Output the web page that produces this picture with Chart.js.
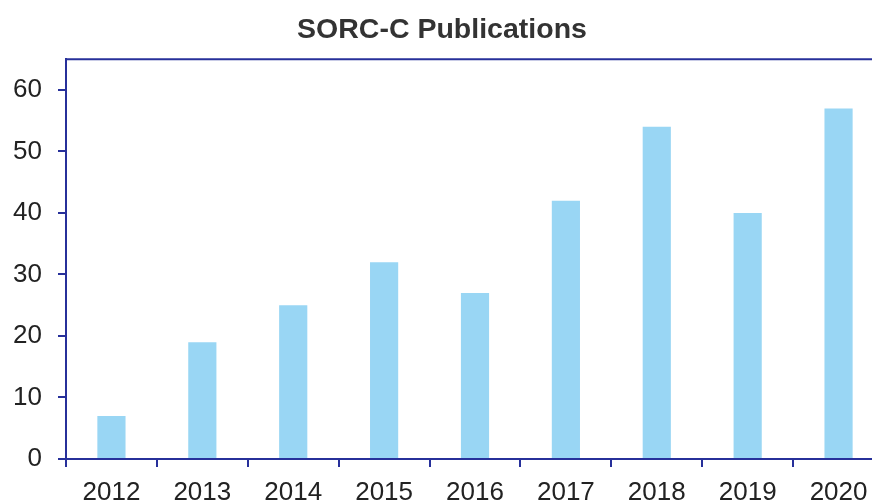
<!DOCTYPE html>
<html>
<head>
<meta charset="utf-8">
<script src="https://cdn.jsdelivr.net/npm/chart.js@4"></script>
<style>
  html, body { margin: 0; padding: 0; background: #fff; overflow: hidden; }
  #wrap { width: 872px; height: 500px; overflow: hidden; }
</style>
</head>
<body>
<div id="wrap"><canvas id="chart" width="884" height="530"></canvas></div>
<script>
const years = ["2012", "2013", "2014", "2015", "2016", "2017", "2018", "2019", "2020"];
const publications = [7, 19, 25, 32, 27, 42, 54, 40, 57];

const axisColor = "#27309a";

// top border of the plot area
const topBorder = {
  id: "topBorder",
  afterDraw(chart) {
    const { ctx, chartArea } = chart;
    ctx.save();
    ctx.strokeStyle = axisColor;
    ctx.lineWidth = 2;
    ctx.beginPath();
    ctx.moveTo(chartArea.left, chartArea.top);
    ctx.lineTo(chartArea.right + 20, chartArea.top);
    ctx.stroke();
    ctx.restore();
  },
};

new Chart(document.getElementById("chart"), {
  type: "bar",
  data: {
    labels: years,
    datasets: [
      {
        label: "Publications",
        data: publications,
        backgroundColor: "#99d6f4",
        categoryPercentage: 1,
        barPercentage: 0.31,
      },
    ],
  },
  options: {
    responsive: false,
    animation: false,
    layout: { padding: { top: 13, left: 0, right: 0, bottom: 0 } },
    plugins: {
      legend: { display: false },
      tooltip: { enabled: false },
      title: {
        display: true,
        text: "SORC-C Publications",
        color: "#333333",
        font: { family: "Liberation Sans", size: 28.5, weight: "bold" },
        padding: { top: 0, bottom: 12 },
      },
    },
    scales: {
      x: {
        offset: true,
        afterFit(scale) { scale.height = 71; },
        grid: {
          display: true,
          offset: true,
          drawOnChartArea: false,
          drawTicks: true,
          tickLength: 8,
          color: axisColor,
          lineWidth: 2,
        },
        border: { display: true, color: axisColor, width: 2 },
        ticks: {
          color: "#222",
          font: { family: "Liberation Sans", size: 26 },
          padding: 10,
          maxRotation: 0,
        },
      },
      y: {
        min: 0,
        max: 65,
        afterFit(scale) { scale.width = 66; },
        afterBuildTicks(scale) {
          scale.ticks = scale.ticks.filter((t) => t.value % 10 === 0);
        },
        grid: {
          display: true,
          drawOnChartArea: false,
          drawTicks: true,
          tickLength: 8,
          color: axisColor,
          lineWidth: 2,
        },
        border: { display: true, color: axisColor, width: 2 },
        ticks: {
          stepSize: 5,
          color: "#222",
          font: { family: "Liberation Sans", size: 26 },
          padding: 16,
        },
      },
    },
  },
  plugins: [topBorder],
});
</script>
</body>
</html>
